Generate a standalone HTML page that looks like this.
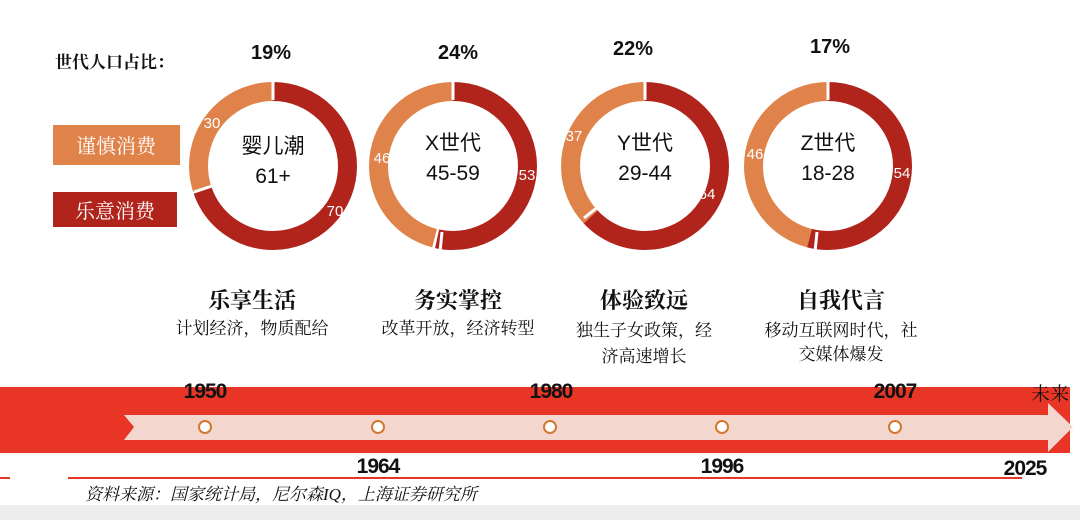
<!DOCTYPE html>
<html><head><meta charset="utf-8"><style>
body{margin:0;width:1080px;height:520px;background:#fff;overflow:hidden}
svg{display:block}
.s{font-family:"Liberation Serif","Noto Serif CJK SC",serif}
.a{font-family:"Liberation Sans","Noto Sans CJK SC",sans-serif}
</style></head><body>
<svg width="1080" height="520" viewBox="0 0 1080 520">
<rect x="0" y="505" width="1080" height="15" fill="#ededed"/>
<text x="55" y="68" class="s" font-size="17" font-weight="bold" fill="#111">世代人口占比：</text>
<rect x="53" y="125" width="127" height="40" fill="#E0834A"/>
<text x="116" y="153" class="s" font-size="20" fill="#fff" text-anchor="middle">谨慎消费</text>
<rect x="53" y="192" width="124" height="35" fill="#B0241C"/>
<text x="115" y="218" class="s" font-size="20" fill="#fff" text-anchor="middle">乐意消费</text>
<g fill="none" stroke-width="19">
<circle cx="273" cy="166" r="74.5" stroke="#B0241C" stroke-dasharray="326 142.1" transform="rotate(-90 273 166)"/>
<circle cx="273" cy="166" r="74.5" stroke="#E0834A" stroke-dasharray="140.4 327.7" transform="rotate(-90 273 166) scale(1,-1) translate(0,-332)"/>
<circle cx="453" cy="166" r="74.5" stroke="#B0241C" stroke-dasharray="250 218" transform="rotate(-90 453 166)"/>
<circle cx="453" cy="166" r="74.5" stroke="#E0834A" stroke-dasharray="215.3 252.8" transform="rotate(-90 453 166) scale(1,-1) translate(0,-332)"/>
<circle cx="645" cy="166" r="74.5" stroke="#B0241C" stroke-dasharray="296 172" transform="rotate(-90 645 166)"/>
<circle cx="645" cy="166" r="74.5" stroke="#E0834A" stroke-dasharray="173.2 294.9" transform="rotate(-90 645 166) scale(1,-1) translate(0,-332)"/>
<circle cx="828" cy="166" r="74.5" stroke="#B0241C" stroke-dasharray="252.8 215.3" transform="rotate(-90 828 166)"/>
<circle cx="828" cy="166" r="74.5" stroke="#E0834A" stroke-dasharray="215.3 252.8" transform="rotate(-90 828 166) scale(1,-1) translate(0,-332)"/>
</g>
<g stroke="#fff" stroke-width="3">
<line x1="273" y1="80" x2="273" y2="100"/><line x1="453" y1="80" x2="453" y2="100"/><line x1="645" y1="80" x2="645" y2="100"/><line x1="828" y1="80" x2="828" y2="100"/>
<line x1="194" y1="192" x2="212" y2="186"/>
<line x1="440" y1="252" x2="442" y2="232"/>
<line x1="584" y1="218" x2="599" y2="206"/>
<line x1="815" y1="252" x2="817" y2="232"/>
</g>
<g class="a" font-size="15" fill="#fff">
<text x="212" y="128" text-anchor="middle">30</text><text x="335" y="216" text-anchor="middle">70</text>
<text x="382" y="163" text-anchor="middle">46</text><text x="527" y="180" text-anchor="middle">53</text>
<text x="574" y="141" text-anchor="middle">37</text><text x="707" y="199" text-anchor="middle">64</text>
<text x="755" y="159" text-anchor="middle">46</text><text x="902" y="178" text-anchor="middle">54</text>
</g>
<g class="a" font-size="20" font-weight="bold" fill="#111" text-anchor="middle">
<text x="271" y="59">19%</text><text x="458" y="59">24%</text><text x="633" y="55">22%</text><text x="830" y="53">17%</text>
</g>
<g class="a" font-size="21" fill="#111" text-anchor="middle">
<text x="273" y="153">婴儿潮</text><text x="273" y="183">61+</text>
<text x="453" y="150">X世代</text><text x="453" y="180">45-59</text>
<text x="645" y="150">Y世代</text><text x="645" y="180">29-44</text>
<text x="828" y="150">Z世代</text><text x="828" y="180">18-28</text>
</g>
<g class="s" fill="#111" text-anchor="middle">
<text x="252" y="308" font-size="22" font-weight="bold">乐享生活</text>
<text x="252" y="334" font-size="17">计划经济，物质配给</text>
<text x="458" y="308" font-size="22" font-weight="bold">务实掌控</text>
<text x="458" y="334" font-size="17">改革开放，经济转型</text>
<text x="644" y="308" font-size="22" font-weight="bold">体验致远</text>
<text x="644" y="336" font-size="17">独生子女政策，经</text>
<text x="644" y="362" font-size="17">济高速增长</text>
<text x="841" y="308" font-size="22" font-weight="bold">自我代言</text>
<text x="841" y="336" font-size="17">移动互联网时代，社</text>
<text x="841" y="360" font-size="17">交媒体爆发</text>
</g>
<rect x="0" y="387" width="1070" height="66" fill="#E83526"/>
<polygon points="124,415 1048,415 1048,403 1073,427 1048,452 1048,440 124,440 134,427" fill="#F3D6CE"/>
<g fill="#fff" stroke="#D2782E" stroke-width="2">
<circle cx="205" cy="427" r="6"/><circle cx="378" cy="427" r="6"/><circle cx="550" cy="427" r="6"/><circle cx="722" cy="427" r="6"/><circle cx="895" cy="427" r="6"/>
</g>
<g class="a" font-size="21" font-weight="bold" fill="#111" text-anchor="middle" letter-spacing="-1">
<text x="205" y="398">1950</text><text x="551" y="398">1980</text><text x="895" y="398">2007</text>
<text x="378" y="473">1964</text><text x="722" y="473">1996</text><text x="1025" y="475">2025</text>
</g>
<text x="1050" y="400" class="s" font-size="19" fill="#111" text-anchor="middle">未来</text>
<line x1="68" y1="478" x2="1022" y2="478" stroke="#E83526" stroke-width="2"/>
<line x1="0" y1="478" x2="10" y2="478" stroke="#E83526" stroke-width="2"/>
<text x="85" y="500" class="s" font-size="17" font-style="italic" fill="#111">资料来源：国家统计局，尼尔森IQ，上海证券研究所</text>
</svg>
</body></html>
